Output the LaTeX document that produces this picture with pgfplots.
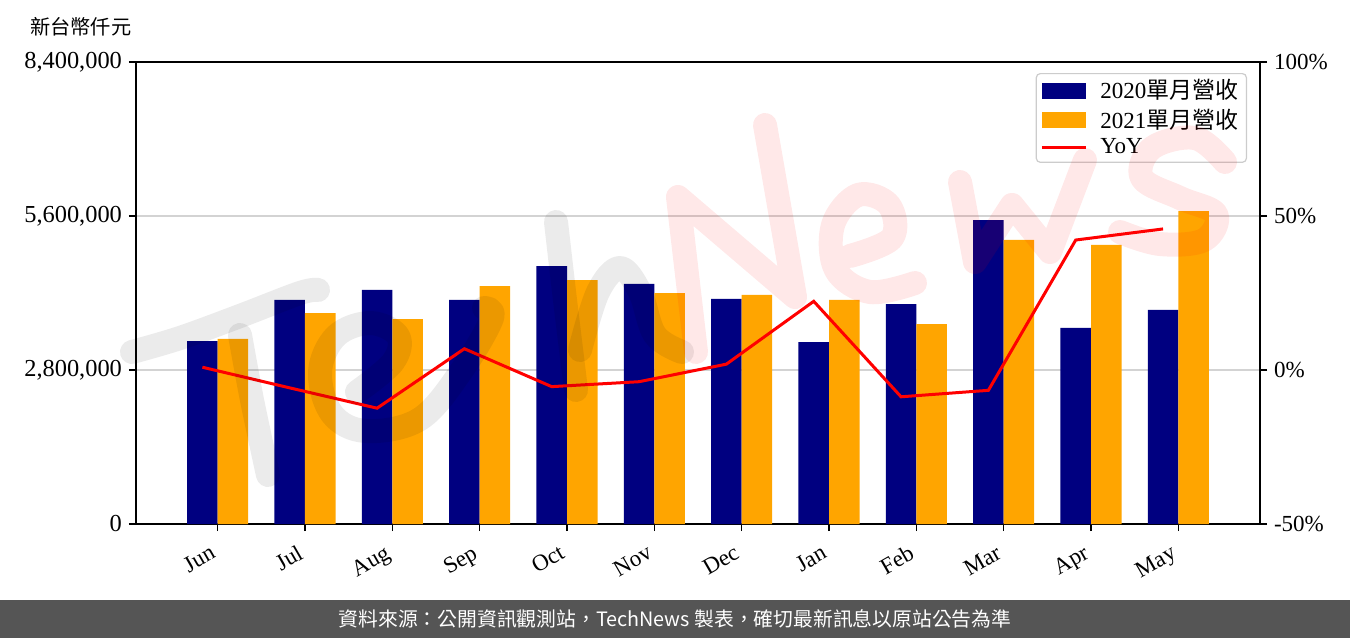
\documentclass[border=0pt]{standalone}
\usepackage{pgfplots}
\usepackage{pgfplotstable}
\pgfplotsset{compat=1.18}
\usepackage{fontspec}
\setmainfont{Liberation Serif}
\newfontfamily\cjk{Noto Sans CJK TC}
\definecolor{c2020}{HTML}{000080}
\definecolor{c2021}{HTML}{FFA500}
\definecolor{footgray}{HTML}{555555}
\definecolor{gridgray}{HTML}{D3D3D3}

\pgfplotstableread{
idx v2020 v2021 yoy
0 3327000 3364000 0.9
1 4073000 3836000 -5.8
2 4255000 3727000 -12.4
3 4073000 4327000 6.9
4 4691000 4436000 -5.4
5 4364000 4200000 -3.8
6 4091000 4164000 1.9
7 3309000 4073000 22.3
8 4000000 3636000 -8.7
9 5527000 5164000 -6.6
10 3564000 5073000 42.2
11 3891000 5691000 45.8
}\datatable

\begin{document}
\begin{tikzpicture}[x=0.5pt,y=0.5pt]
\useasboundingbox (0,0) rectangle (1350,638);
% footer
\fill[footgray] (0,0) rectangle (1350,38);
\node[white, font=\cjk\fontsize{9.9}{11}\selectfont] at (675,19)
  {資料來源：公開資訊觀測站，TechNews 製表，確切最新訊息以原站公告為準};
% unit title
\node[font=\cjk\fontsize{10.1}{11}\selectfont, anchor=west, inner sep=0] at (30,611) {新台幣仟元};

\begin{axis}[
  at={(68pt,57pt)}, anchor=south west, scale only axis,
  width=562pt, height=231pt,
  xmin=-0.935, xmax=11.935, ymin=0, ymax=8400000,
  axis line style={black, line width=1pt},
  tick style={black, line width=0.8pt},
  tick align=outside, major tick length=3.5pt,
  xtick pos=bottom, ytick pos=left,
  xtick={0,...,11},
  xticklabels={Jun,Jul,Aug,Sep,Oct,Nov,Dec,Jan,Feb,Mar,Apr,May},
  xticklabel style={rotate=30, anchor=north east, xshift=-3.5pt, yshift=0pt,
    font=\fontsize{11.5}{13}\selectfont},
  ytick={0,2800000,5600000,8400000},
  yticklabels={0,{2,800,000},{5,600,000},{8,400,000}},
  yticklabel style={font=\fontsize{12.2}{14}\selectfont},
  scaled y ticks=false,
  ymajorgrids, grid style={gridgray, line width=0.8pt},
  legend style={at={(1,1)}, anchor=north east, xshift=-6.5pt, yshift=-5.5pt,
    draw=black!20, line width=0.6pt, rounded corners=2pt, fill=white,
    font=\fontsize{11.5}{13}\selectfont, row sep=-0.5pt, inner xsep=2pt, inner ysep=1pt},
  legend cell align=left,
]
\addplot[ybar, bar width=0.35, bar shift=-0.175, fill=c2020, draw=none,
  legend image code/.code={\fill[c2020, sharp corners] (0pt,-3.9pt) rectangle (22pt,3.9pt); \path (27pt,0pt);}]
  table[x=idx, y=v2020] {\datatable};
\addlegendentry{2020{\cjk 單月營收}}
\addplot[ybar, bar width=0.35, bar shift=0.175, fill=c2021, draw=none,
  legend image code/.code={\fill[c2021, sharp corners] (0pt,-3.9pt) rectangle (22pt,3.9pt); \path (27pt,0pt);}]
  table[x=idx, y=v2021] {\datatable};
\addlegendentry{2021{\cjk 單月營收}}
\addlegendimage{legend image code/.code={\draw[red, line width=1.5pt, sharp corners] (0pt,0pt) -- (22pt,0pt); \path (27pt,0pt);}}
\addlegendentry{YoY}
\end{axis}

\begin{axis}[
  at={(68pt,57pt)}, anchor=south west, scale only axis,
  width=562pt, height=231pt,
  xmin=-0.935, xmax=11.935, ymin=-50, ymax=100,
  axis x line=none,
  axis y line*=right,
  axis line style={black, line width=1pt},
  tick style={black, line width=0.8pt},
  tick align=outside, major tick length=3.5pt,
  ytick={-50,0,50,100},
  yticklabels={-50\%,0\%,50\%,100\%},
  yticklabel style={font=\fontsize{11.5}{13}\selectfont},
]
\addplot[red, line width=1.5pt, mark=none] table[x expr=\thisrow{idx}-0.175, y=yoy] {\datatable};
\end{axis}

% faint hand-drawn logo overlay (image coordinates, y downwards)
\begin{scope}[shift={(0,638)}, yscale=-1, line cap=round, line join=round, line width=12pt]
\begin{scope}[draw=black, draw opacity=0.08]
\draw plot[smooth, tension=0.6] coordinates {(132,352) (180,338) (240,316) (300,293) (318,290)};
\draw plot[smooth] coordinates {(240,335) (252,400) (268,475)};
\draw plot[smooth, tension=0.6] coordinates {(357,392) (393,362) (398,336) (370,323) (336,336) (320,372) (332,414) (366,431) (420,419) (462,370) (492,318) (484,308)};
\draw plot[smooth] coordinates {(556,222) (565,300) (576,390)};
\draw plot[smooth, tension=0.6] coordinates {(580,350) (598,292) (620,268) (640,292) (655,335) (682,352)};
\end{scope}
\begin{scope}[draw=red, draw opacity=0.09]
\draw (696,352) -- (678,197) -- (795,297) -- (765,125);
\draw plot[smooth, tension=0.6] coordinates {(850,256) (892,238) (889,205) (858,195) (833,225) (836,270) (870,292) (915,283)};
\draw (960,182) -- (975,262) -- (1012,205) -- (1050,252) -- (1085,160);
\draw plot[smooth, tension=0.6] coordinates {(1225,162) (1195,138) (1152,148) (1142,178) (1180,198) (1216,214) (1204,240) (1160,244) (1120,232)};
\end{scope}
\end{scope}
\end{tikzpicture}
\end{document}
